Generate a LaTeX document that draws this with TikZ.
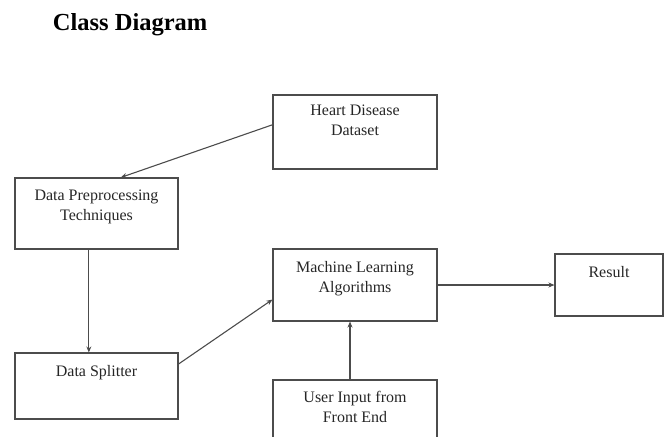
\documentclass[tikz,border=0pt]{standalone}
\usepackage{fontspec}
\setmainfont{Liberation Serif}
\usetikzlibrary{positioning}
\usetikzlibrary{arrows.meta}

\begin{document}
\begin{tikzpicture}[x=1pt,y=-1pt,->,>={Stealth[length=6pt,width=5pt]},line width=1.1pt,draw=black!70,
	class box/.style={draw,rectangle,minimum width=164pt,inner sep=0pt},
	class text/.style={align=center,inner sep=0pt,text=black!85,font=\fontsize{16}{20}\selectfont}]
		
		\useasboundingbox (0,0) rectangle (665,437);
		\node[anchor=west,font=\fontsize{24.5}{28}\selectfont\bfseries] at (49,25) (title) {Class Diagram};
		
		\node[class box,minimum height=74pt] at (355,132) (1) {};
		\node[class text, below = 10pt of 1.north] (1t) {Heart Disease\\Dataset};
		\node[class box,minimum width=163pt,minimum height=71pt] at (96.5,213.5) (2) {};
		\node[class text, below = 12pt of 2.north] (2t) {Data Preprocessing\\Techniques};
		\node[class box,minimum width=163pt,minimum height=66pt] at (96.5,386) (3) {};
		\node[class text, below = 12pt of 3.north] (3t) {Data Splitter};
		\node[class box,minimum height=72pt] at (355,285) (4) {};
		\node[class text, below = 12pt of 4.north] (4t) {Machine Learning\\Algorithms};
		\node[class box,minimum height=70pt] at (355,415) (5) {};
		\node[class text, below = 11pt of 5.north] (5t) {User Input from\\Front End};
		\node[class box,minimum width=108pt,minimum height=62pt] at (609,285) (6) {};
		\node[class text, below = 12pt of 6.north] (6t) {Result};
		
		\path
		(1.175) edge (2.56)
		(2.258) edge (2.258 |- 3.north)
		(3.15) edge (4.190)
		(5.north -| 350,0) edge (4.south -| 350,0)
		(4.east) edge (6.west)
		;
		
\end{tikzpicture}
\end{document}
